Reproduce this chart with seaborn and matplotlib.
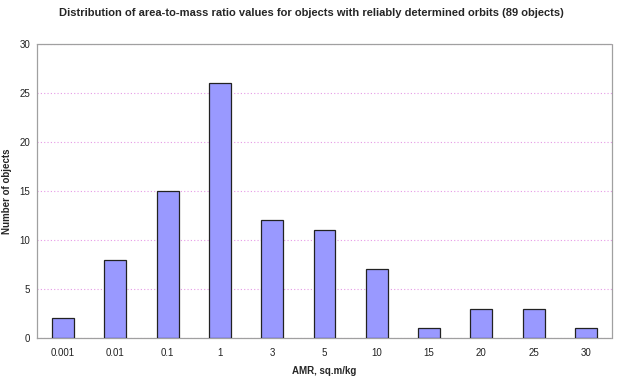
import matplotlib
matplotlib.use("Agg")
import matplotlib.pyplot as plt
import seaborn as sns
import pandas as pd

amr_labels = ["0.001", "0.01", "0.1", "1", "3", "5", "10", "15", "20", "25", "30"]
object_counts = [2, 8, 15, 26, 12, 11, 7, 1, 3, 3, 1]

df = pd.DataFrame({"AMR": amr_labels, "count": object_counts})

sns.set_style("white")
plt.rcParams["font.family"] = ["Liberation Sans", "DejaVu Sans"]

fig = plt.figure(figsize=(6.23, 3.77), dpi=100)
ax = fig.add_axes([37 / 623, 1 - 338 / 377, 575 / 623, 294 / 377])

sns.barplot(
    data=df, x="AMR", y="count", ax=ax,
    color="#9999FF", saturation=1, width=0.42,
    edgecolor="#222222", linewidth=0.9, zorder=3,
)

ax.set_ylim(0, 30)
ax.set_xlim(-0.5, len(amr_labels) - 0.5)
ax.set_yticks(range(0, 31, 5))
ax.yaxis.grid(True, color="#E699E6", linestyle=(0, (1, 2)), linewidth=0.8, zorder=0)
for side in ax.spines.values():
    side.set_color("#A0A0A0")
    side.set_linestyle((0, (1, 1)))
    side.set_linewidth(0.9)

ax.tick_params(axis="both", labelsize=7, length=2, colors="#222222")
ax.tick_params(axis="y", pad=3)
ax.tick_params(axis="x", length=0, pad=7)
ax.set_xlabel("AMR, sq.m/kg", fontsize=7, fontweight="bold", labelpad=6)
ax.set_ylabel("Number of objects", fontsize=7, fontweight="bold", labelpad=5)
fig.text(0.5, 1 - 13 / 377, "Distribution of area-to-mass ratio values for objects with reliably determined orbits (89 objects)",
         ha="center", va="center", fontsize=8, fontweight="bold")

fig.savefig("out.png", dpi=100)
